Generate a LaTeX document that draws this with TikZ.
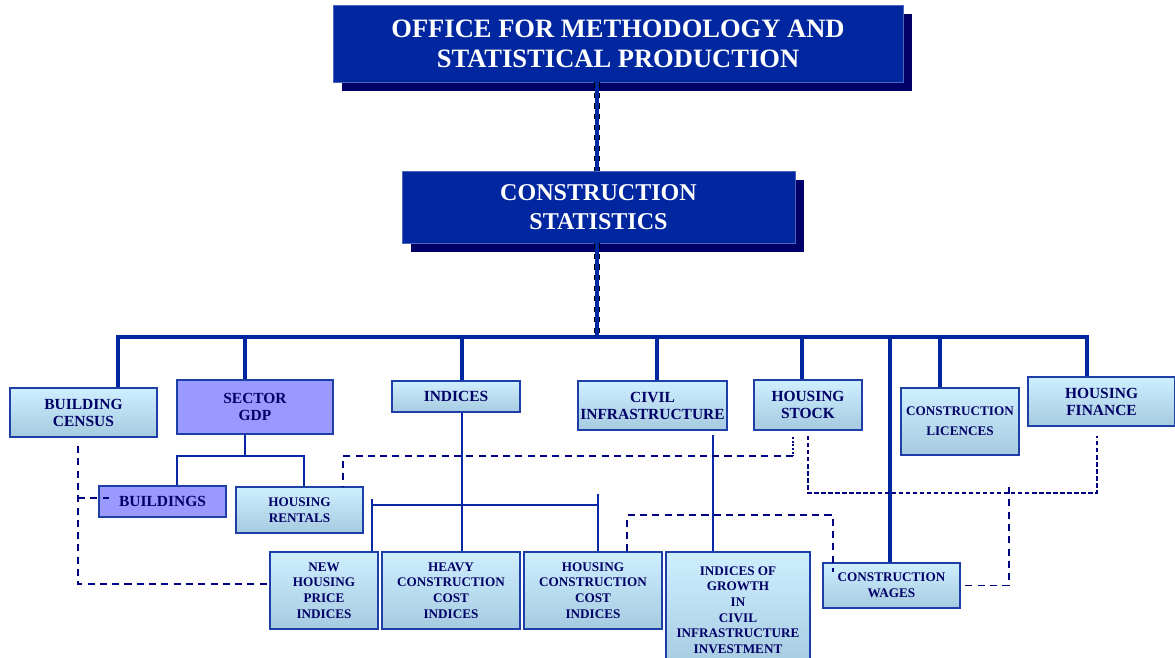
\documentclass[tikz,border=0pt]{standalone}
\usepackage{fontspec}
\setmainfont{Liberation Serif}
\usetikzlibrary{shadows}
\definecolor{topblue}{RGB}{0,38,160}
\definecolor{shadowblue}{RGB}{0,0,102}
\definecolor{linkblue}{RGB}{10,40,165}
\definecolor{dashblue}{RGB}{0,0,130}
\definecolor{boxline}{RGB}{30,62,168}
\definecolor{boxtop}{RGB}{206,239,255}
\definecolor{boxbottom}{RGB}{166,202,224}
\definecolor{gdpfill}{RGB}{153,153,255}
\definecolor{textblue}{RGB}{0,0,102}

\begin{document}
\begin{tikzpicture}
  [x=0.02cm,y=-0.02cm,
   head/.style={rectangle, fill=topblue, draw=topblue!70!white, text=white, align=center,
     drop shadow={shadow xshift=0.18cm, shadow yshift=-0.18cm, fill=shadowblue, opacity=1}},
   cell/.style={rectangle, draw=boxline, line width=0.9pt, text=textblue, align=center, inner xsep=0pt, inner ysep=1pt},
   unit/.style={cell, top color=boxtop, bottom color=boxbottom},
   sector/.style={cell, fill=gdpfill},
   big/.style={font=\bfseries\fontsize{8.8}{9.7}\selectfont},
   small/.style={font=\bfseries\fontsize{7.5}{8.9}\selectfont}]
  \tikzset{
    spine/.style={draw=black, dashed, line width=3.2pt, postaction={draw=topblue, solid, line width=2.2pt}},
    bus/.style={draw=topblue, line width=2.3pt, line join=miter},
    link/.style={draw=linkblue, line width=0.85pt},
    dlink/.style={draw=dashblue, line width=1.1pt, dash pattern=on 4pt off 3pt},
    tlink/.style={draw=dashblue, line width=0.6pt, dash pattern=on 2.5pt off 1.5pt}
  }
  \useasboundingbox (0,0) rectangle (1175,657);

  \node[head, minimum width=11.4cm, minimum height=1.54cm, font=\bfseries\fontsize{15.1}{17}\selectfont]
    (office) at (618,43.5) {OFFICE FOR METHODOLOGY AND\\STATISTICAL PRODUCTION};
  \node[head, minimum width=7.86cm, minimum height=1.44cm, font=\bfseries\fontsize{13.7}{16.5}\selectfont]
    (cstat) at (598.5,207) {CONSTRUCTION\\STATISTICS};

  \node[unit, big, minimum width=2.94cm, minimum height=0.98cm] (census) at (83.5,412.5) {BUILDING\\CENSUS};
  \node[sector, big, minimum width=3.12cm, minimum height=1.08cm] (gdp) at (255,407) {SECTOR\\GDP};
  \node[unit, big, minimum width=2.56cm, minimum height=0.62cm] (indices) at (456,396.5) {INDICES};
  \node[unit, big, minimum width=2.98cm, minimum height=0.98cm] (civil) at (652.5,405.5) {CIVIL\\INFRASTRUCTURE};
  \node[unit, big, minimum width=2.16cm, minimum height=1.0cm] (stock) at (808,405) {HOUSING\\STOCK};
  \node[unit, font=\bfseries\fontsize{7.5}{11.4}\selectfont, minimum width=2.36cm, minimum height=1.34cm]
    (licences) at (960,421.5) {CONSTRUCTION\\LICENCES};
  \node[unit, big, minimum width=2.94cm, minimum height=0.98cm] (finance) at (1101.5,401.5) {HOUSING\\FINANCE};

  \node[sector, big, minimum width=2.54cm, minimum height=0.62cm] (buildings) at (162.5,501.5) {BUILDINGS};
  \node[unit, small, minimum width=2.54cm, minimum height=0.92cm] (rentals) at (299.5,510) {HOUSING\\RENTALS};
  \node[unit, small, minimum width=2.16cm, minimum height=1.54cm] (newprice) at (324,590.5) {NEW\\HOUSING\\PRICE\\INDICES};
  \node[unit, small, minimum width=2.76cm, minimum height=1.54cm] (heavy) at (451,590.5) {HEAVY\\CONSTRUCTION\\COST\\INDICES};
  \node[unit, small, minimum width=2.76cm, minimum height=1.54cm] (hcci) at (593,590.5) {HOUSING\\CONSTRUCTION\\COST\\INDICES};
  \node[unit, small, minimum width=2.88cm, minimum height=2.32cm] (growth) at (738,610)
    {INDICES OF\\GROWTH\\IN\\CIVIL\\INFRASTRUCTURE\\INVESTMENT};
  \node[unit, small, minimum width=2.74cm, minimum height=0.9cm] (wages) at (891.5,585.5) {CONSTRUCTION\\WAGES};

  \coordinate (hub) at (597,337);
  \draw[spine] (hub |- office.south) -- (hub |- cstat.north);
  \draw[spine] (hub |- cstat.south) -- (hub);

  \coordinate (bcensus) at (118,337);
  \coordinate (bfinance) at (1087,337);
  \draw[bus] (bcensus |- census.north) -- (bcensus) -- (bfinance) -- (bfinance |- finance.north);
  \foreach \x/\n in {245/gdp, 462/indices, 657/civil, 802/stock, 890/wages, 940/licences}{
    \coordinate (b\n) at (\x,337);
    \draw[bus] (b\n) -- (b\n |- \n.north);
  }

  \coordinate (gl) at (177,456);
  \coordinate (gm) at (245,456);
  \coordinate (gr) at (304,456);
  \draw[link] (gm |- gdp.south) -- (gm);
  \draw[link] (gl |- buildings.north) -- (gl) -- (gr) -- (gr |- rentals.north);

  \coordinate (ix) at (462,505);
  \coordinate (il) at (372,505);
  \coordinate (ir) at (598,505);
  \coordinate (ilt) at (372,499);
  \coordinate (irt) at (598,494);
  \draw[link] (ix |- indices.south) -- (ix |- heavy.north);
  \draw[link] (il) -- (ir);
  \draw[link] (ilt) -- (ilt |- newprice.north);
  \draw[link] (irt) -- (irt |- hcci.north);

  \coordinate (cv) at (713,435);
  \draw[link] (cv) -- (cv |- growth.north);

  \coordinate (c1) at (78,446);
  \coordinate (c2) at (78,584);
  \coordinate (c3) at (78,498);
  \coordinate (c4) at (109,498);
  \draw[dlink] (c1) -- (c2) -- (c2 -| newprice.west);
  \draw[dlink] (c3) -- (c4);

  \coordinate (s1) at (793,437);
  \coordinate (s2) at (793,456);
  \coordinate (s3) at (343,456);
  \draw[draw=dashblue, line width=1.1pt, densely dotted] (s1) -- (s2);
  \draw[dlink] (s2) -- (s3) -- (s3 |- rentals.north);

  \coordinate (f1) at (808,436);
  \coordinate (f2) at (1097,436);
  \coordinate (f3) at (1097,493);
  \draw[tlink] (f1) |- (f3) -- (f2);

  \coordinate (w1) at (1009,487);
  \draw[dlink] (w1) |- (wages.east);

  \coordinate (h1) at (627,515);
  \coordinate (h2) at (833,515);
  \coordinate (h3) at (833,572);
  \draw[dlink] (h1 |- hcci.north) -- (h1) -- (h2) -- (h3);
\end{tikzpicture}
\end{document}
